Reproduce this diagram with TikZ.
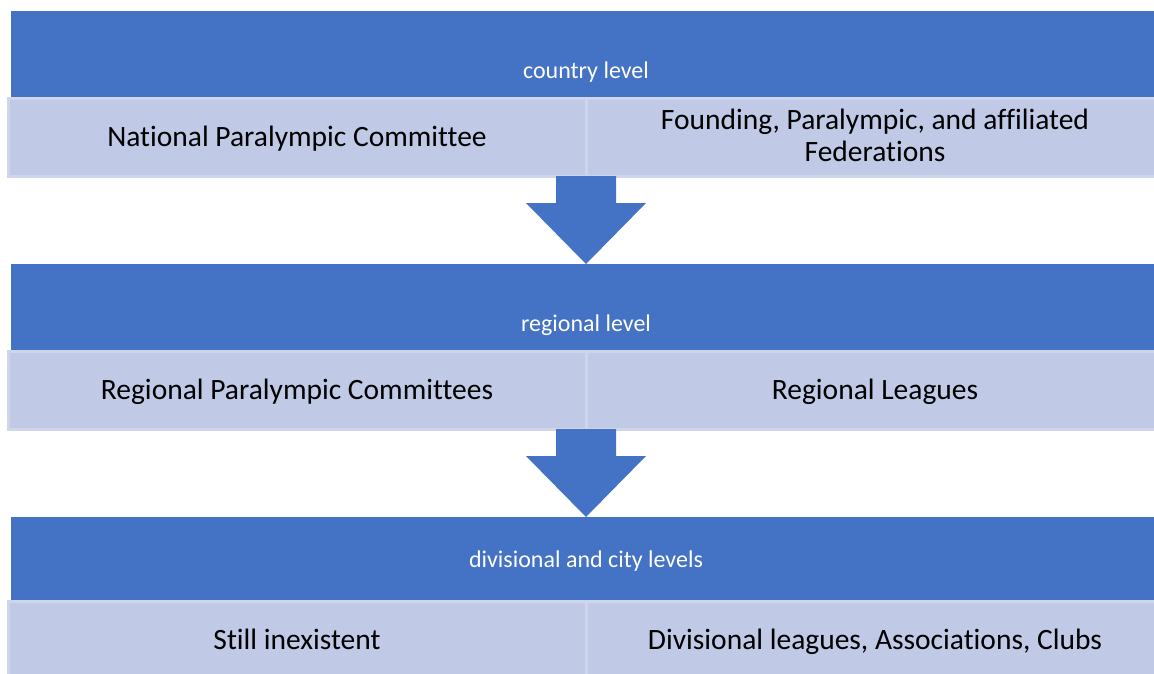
\documentclass[tikz,border=0pt]{standalone}
\usepackage{fontspec}
\setmainfont{Carlito}[Ligatures=NoCommon]
\usetikzlibrary{positioning, calc}
\definecolor{levelblue}{RGB}{68, 114, 196}
\definecolor{cellblue}{RGB}{192, 201, 230}
\definecolor{celledge}{RGB}{207, 214, 236}
\tikzset{
  levelband/.style={rectangle, fill=levelblue, minimum width=1150pt, inner sep=0pt, outer sep=0pt},
  bandtext/.style={text=white, font=\fontsize{24}{29}\selectfont, inner sep=0pt},
  cellbox/.style={rectangle, fill=cellblue, draw=celledge, line width=3pt, minimum width=578pt, minimum height=78pt,
    inner sep=0pt, outer sep=0pt, text height=19pt, text depth=0pt, align=center, font=\fontsize{29.5}{32}\selectfont},
  blockarrow/.style={fill=levelblue},
}

\begin{document}
\begin{tikzpicture}[x=1pt, y=-1pt]
  \useasboundingbox (0,0) rectangle (1154,673);
  % country level
  \node[levelband, minimum height=87pt, anchor=north west] (country) at (11,11) {};
  \node[bandtext] (countrytxt) at (586,72) {country level};
  \node[cellbox, anchor=north west] (npc) at (8,98) {National Paralympic Committee};
  \node[cellbox, text height=48pt, anchor=north west] (fed) at (586,98) {Founding, Paralympic, and affiliated\\Federations};
  % regional level
  \node[levelband, minimum height=87pt, anchor=north west] (regional) at (11,264) {};
  \node[bandtext] (regionaltxt) at (586,325) {regional level};
  \node[cellbox, anchor=north west] (rpc) at (8,351) {Regional Paralympic Committees};
  \node[cellbox, anchor=north west] (leagues) at (586,351) {Regional Leagues};
  % divisional and city levels
  \node[levelband, minimum height=84pt, anchor=north west] (division) at (11,517) {};
  \node[bandtext] (divisiontxt) at (586,561) {divisional and city levels};
  \node[cellbox, anchor=north west] (none) at (8,601) {Still inexistent};
  \node[cellbox, anchor=north west] (clubs) at (586,601) {Divisional leagues, Associations, Clubs};
  % arrows between levels
  \foreach \src/\dst in {npc/regional,rpc/division}
    \fill[blockarrow] ($(\src.south east)+(-30,0)$) -- ++(60,0) -- ++(0,27) -- ++(30,0)
      -- (\dst.north) -- ($(\src.south east)+(-60,27)$) -- ++(30,0) -- cycle;
\end{tikzpicture}
\end{document}
